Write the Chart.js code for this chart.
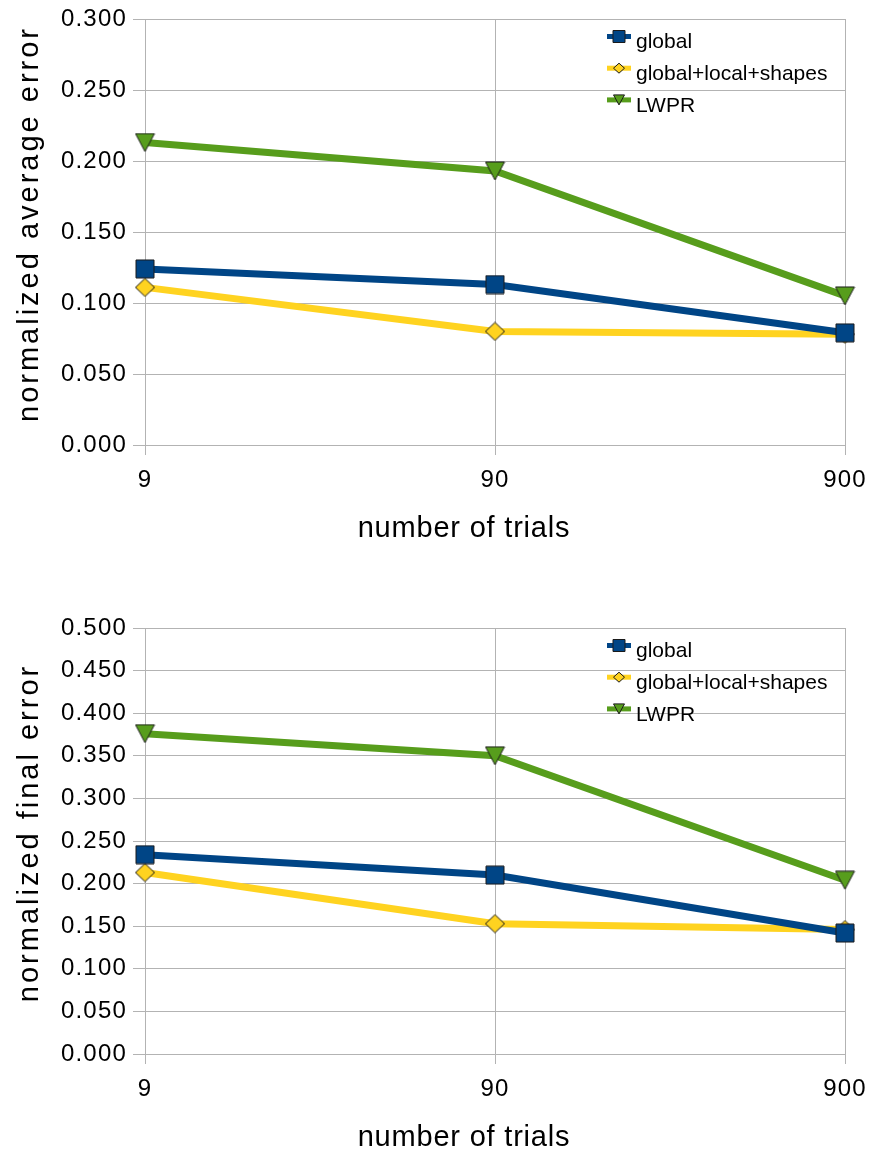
<!DOCTYPE html>
<html>
<head>
<meta charset="utf-8">
<script src="https://cdn.jsdelivr.net/npm/chart.js@4.4.1/dist/chart.umd.min.js"></script>
<style>
  html, body { margin: 0; padding: 0; background: #fff; overflow: hidden; width: 872px; height: 1151px; }
  .box { position: absolute; left: 0; width: 872px; height: 546px; }
  #topBox { top: 0; }
  #bottomBox { top: 609px; }
  canvas { display: block; }
</style>
</head>
<body>
<div class="box" id="topBox"><canvas id="avgChart"></canvas></div>
<div class="box" id="bottomBox"><canvas id="finalChart"></canvas></div>
<script>
// Categories (number of trials)
const trials = ['9', '90', '900'];
const seriesNames = ['global', 'global+local+shapes', 'LWPR'];

// Normalized average error
const avgGlobal = [0.124, 0.113, 0.079];
const avgShapes = [0.111, 0.080, 0.078];
const avgLWPR   = [0.213, 0.193, 0.105];

// Normalized final error
const finalGlobal = [0.234, 0.210, 0.142];
const finalShapes = [0.213, 0.153, 0.146];
const finalLWPR   = [0.376, 0.350, 0.204];

// Value-axis ranges
const avgAxisMax = 0.3;
const finalAxisMax = 0.5;
const axisStep = 0.05;

const FONT = '"Liberation Sans", Arial, Helvetica, sans-serif';
const GRID = '#b3b3b3';
const COLORS = ['#004586', '#ffd320', '#579d1c'];
const MARKERS = ['square', 'diamond', 'triangleDown'];

Chart.defaults.font.family = FONT;
Chart.defaults.color = '#000';

function drawMarker(ctx, kind, cx, cy, w, h, fill) {
  ctx.save();
  ctx.fillStyle = fill;
  ctx.strokeStyle = '#1a1a1a';
  ctx.lineWidth = 1;
  ctx.beginPath();
  const hw = w / 2, hh = h / 2;
  if (kind === 'square') {
    ctx.rect(cx - hw, cy - hh, w, h);
  } else if (kind === 'diamond') {
    ctx.moveTo(cx, cy - hh);
    ctx.lineTo(cx + hw, cy);
    ctx.lineTo(cx, cy + hh);
    ctx.lineTo(cx - hw, cy);
    ctx.closePath();
  } else {
    ctx.moveTo(cx - hw, cy - hh);
    ctx.lineTo(cx + hw, cy - hh);
    ctx.lineTo(cx, cy + hh);
    ctx.closePath();
  }
  ctx.fill();
  ctx.stroke();
  ctx.restore();
}

function markerCanvas(kind, w, h, fill) {
  const c = document.createElement('canvas');
  c.width = Math.ceil(w) + 2;
  c.height = Math.ceil(h) + 2;
  drawMarker(c.getContext('2d'), kind, c.width / 2, c.height / 2, w, h, fill);
  return c;
}

const POINT_SIZES = [[18, 18], [19, 18], [19, 18]];
const LEGEND_SIZES = [[12, 12], [11, 10], [11, 10]];

// Slightly open text spacing for all chart text
const textSpacing = {
  id: 'textSpacing',
  beforeDraw(chart) {
    if ('letterSpacing' in chart.ctx) chart.ctx.letterSpacing = '1.2px';
  }
};

// Legend drawn inside the plot area, top right
const innerLegend = {
  id: 'innerLegend',
  afterDraw(chart) {
    const ctx = chart.ctx;
    const top = chart.chartArea.top;
    ctx.save();
    if ('letterSpacing' in ctx) ctx.letterSpacing = '0px';
    chart.data.datasets.forEach((ds, i) => {
      const my = top + 17.5 + i * 31.7;
      ctx.strokeStyle = ds.borderColor;
      ctx.lineWidth = 5;
      ctx.beginPath();
      ctx.moveTo(607, my);
      ctx.lineTo(631, my);
      ctx.stroke();
      const [w, h] = LEGEND_SIZES[i];
      drawMarker(ctx, MARKERS[i], 619, my, w, h, ds.backgroundColor);
      ctx.fillStyle = '#000';
      ctx.font = '21px ' + FONT;
      ctx.textAlign = 'left';
      ctx.textBaseline = 'alphabetic';
      ctx.fillText(ds.label, 636, top + 29 + i * 31.8);
    });
    ctx.restore();
  }
};

// Axis titles: rotated value title on the left, category title below
const axisTitles = {
  id: 'axisTitles',
  afterDraw(chart, args, opts) {
    const ctx = chart.ctx;
    const a = chart.chartArea;
    ctx.save();
    ctx.fillStyle = '#000';
    ctx.textAlign = 'center';

    ctx.font = '29px ' + FONT;
    if ('letterSpacing' in ctx) ctx.letterSpacing = opts.ySpacing + 'px';
    ctx.save();
    ctx.translate(opts.yTitleX, (a.top + a.bottom) / 2 + opts.yTitleDy);
    ctx.rotate(-Math.PI / 2);
    ctx.textBaseline = 'middle';
    ctx.fillText(opts.yText, 0, 0);
    ctx.restore();

    if ('letterSpacing' in ctx) ctx.letterSpacing = opts.xSpacing + 'px';
    ctx.textBaseline = 'alphabetic';
    ctx.fillText(opts.xText, opts.xTitleX, a.bottom + 92);
    ctx.restore();
  }
};

function buildChart(canvasId, values, yMax, yTitle, titleDy) {
  const datasets = values.map((data, i) => ({
    label: seriesNames[i],
    data: data,
    borderColor: COLORS[i],
    backgroundColor: COLORS[i],
    borderWidth: 7,
    tension: 0,
    pointStyle: markerCanvas(MARKERS[i], POINT_SIZES[i][0], POINT_SIZES[i][1], COLORS[i]),
    pointRadius: 10,
    pointHoverRadius: 10
  }));
  return new Chart(document.getElementById(canvasId), {
    type: 'line',
    data: { labels: trials, datasets },
    options: {
      responsive: true,
      maintainAspectRatio: false,
      animation: false,
      events: [],
      layout: { padding: { top: 19, right: 27, bottom: 0, left: 0 } },
      plugins: {
        legend: { display: false },
        tooltip: { enabled: false },
        axisTitles: {
          yText: yTitle, yTitleX: 30, yTitleDy: titleDy, ySpacing: 3,
          xText: 'number of trials', xTitleX: 464, xSpacing: 0.8
        }
      },
      scales: {
        x: {
          type: 'category',
          offset: false,
          grid: { color: GRID, lineWidth: 1, tickLength: 10, drawTicks: true },
          border: { color: GRID, width: 1 },
          ticks: { font: { size: 24 }, padding: 11, maxRotation: 0 },
          afterFit: (s) => {
            s.height = 101;
            s.paddingLeft = 0;
            s.paddingRight = 0;
          }
        },
        y: {
          min: 0,
          max: yMax,
          grid: { color: GRID, lineWidth: 1, tickLength: 12, drawTicks: true },
          border: { color: GRID, width: 1 },
          ticks: {
            stepSize: axisStep,
            font: { size: 24 },
            padding: 6,
            callback: (v) => Number(v).toFixed(3)
          },
          afterFit: (s) => {
            s.width = 145;
            s.paddingTop = 0;
            s.paddingBottom = 0;
          }
        }
      }
    },
    plugins: [textSpacing, innerLegend, axisTitles]
  });
}

buildChart('avgChart', [avgGlobal, avgShapes, avgLWPR], avgAxisMax, 'normalized average error', -8);
buildChart('finalChart', [finalGlobal, finalShapes, finalLWPR], finalAxisMax, 'normalized final error', -8);
</script>
</body>
</html>
